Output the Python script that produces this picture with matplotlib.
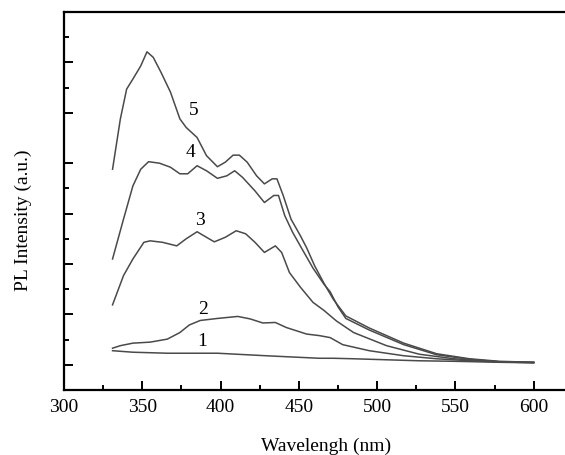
import matplotlib
matplotlib.use('Agg')
import matplotlib.pyplot as plt

# Du lieu doc tu hinh (buoc song nm, cuong do a.u.)
x1 = [331, 344, 366, 398, 429, 463, 472, 485, 506, 527, 549, 578, 600]
y1 = [0.78, 0.75, 0.73, 0.73, 0.68, 0.63, 0.63, 0.62, 0.60, 0.58, 0.57, 0.55, 0.54]

x2 = [331, 336, 344, 355, 366, 374, 380, 387, 398, 411, 419, 427, 435, 442,
      455, 463, 470, 478, 495, 517, 538, 559, 578, 600]
y2 = [0.83, 0.88, 0.93, 0.95, 1.01, 1.14, 1.29, 1.38, 1.42, 1.46, 1.41, 1.33,
      1.34, 1.24, 1.11, 1.08, 1.04, 0.90, 0.78, 0.68, 0.62, 0.58, 0.56, 0.54]

x3 = [331, 338, 344, 351, 355, 363, 372, 378, 385, 391, 396, 403, 410, 416,
      422, 428, 435, 439, 444, 451, 459, 466, 474, 485, 506, 527, 549, 578, 600]
y3 = [1.69, 2.27, 2.60, 2.93, 2.96, 2.93, 2.86, 3.00, 3.14, 3.03, 2.94, 3.03,
      3.16, 3.10, 2.93, 2.73, 2.86, 2.73, 2.33, 2.04, 1.74, 1.58, 1.37, 1.14,
      0.88, 0.71, 0.62, 0.56, 0.55]

x4 = [331, 338, 344, 349, 354, 361, 368, 374, 379, 385, 391, 398, 404, 409,
      414, 422, 428, 434, 437, 441, 446, 452, 459, 466, 470, 475, 480, 495,
      517, 538, 559, 578, 600]
y4 = [2.60, 3.39, 4.05, 4.38, 4.53, 4.50, 4.42, 4.29, 4.29, 4.45, 4.35, 4.20,
      4.25, 4.35, 4.22, 3.95, 3.72, 3.86, 3.86, 3.46, 3.13, 2.80, 2.42, 2.10,
      1.95, 1.65, 1.42, 1.19, 0.90, 0.70, 0.61, 0.56, 0.55]

x5 = [331, 336, 340, 344, 349, 353, 357, 362, 368, 374, 378, 385, 391, 398,
      403, 408, 412, 417, 423, 428, 433, 436, 440, 445, 451, 455, 460, 466,
      472, 480, 495, 517, 538, 559, 578, 600]
y5 = [4.38, 5.38, 5.97, 6.17, 6.43, 6.71, 6.60, 6.30, 5.91, 5.38, 5.21, 5.01,
      4.65, 4.43, 4.52, 4.66, 4.66, 4.52, 4.25, 4.09, 4.19, 4.19, 3.86, 3.39,
      3.06, 2.82, 2.47, 2.12, 1.80, 1.47, 1.23, 0.93, 0.72, 0.62, 0.57, 0.55]

nhan = ['1', '2', '3', '4', '5']
nhan_x = [388, 389, 387, 381, 383]
nhan_y = [0.98, 1.61, 3.39, 4.73, 5.56]

plt.rcParams['font.family'] = ['Liberation Serif', 'DejaVu Serif']

fig = plt.figure(figsize=(5.65, 4.56), dpi=100)
ax = fig.add_axes([0.1133, 0.1425, 0.8867, 0.829])

mau = '#4a4a4a'
for xs, ys in [(x1, y1), (x2, y2), (x3, y3), (x4, y4), (x5, y5)]:
    ax.plot(xs, ys, color=mau, lw=1.1)

for t, tx, ty in zip(nhan, nhan_x, nhan_y):
    ax.text(tx, ty, t, fontsize=14, ha='center', va='center')

ax.set_xlim(300, 620)
ax.set_ylim(0, 7.5)
ax.set_xticks([300, 350, 400, 450, 500, 550, 600])
ax.set_xticks([325, 375, 425, 475, 525, 575], minor=True)
ax.set_yticks([0.5, 1.5, 2.5, 3.5, 4.5, 5.5, 6.5])
ax.set_yticks([1, 2, 3, 4, 6, 7], minor=True)
ax.set_yticklabels([])

ax.tick_params(which='both', direction='in', width=1.4, labelsize=14, pad=6)
ax.tick_params(which='major', length=6.5)
ax.tick_params(which='minor', length=3.5)
ax.tick_params(axis='y', which='both', left=True, right=False)
ax.tick_params(axis='x', which='both', top=False)

ax.spines['right'].set_visible(False)
for s in ['left', 'top', 'bottom']:
    ax.spines[s].set_linewidth(1.6)

ax.set_xlabel('Wavelengh (nm)', fontsize=14)
ax.set_ylabel('PL Intensity (a.u.)', fontsize=14)
ax.xaxis.set_label_coords(0.523, -0.123)
ax.yaxis.set_label_coords(-0.064, 0.452)

fig.savefig('out.png', dpi=100)
